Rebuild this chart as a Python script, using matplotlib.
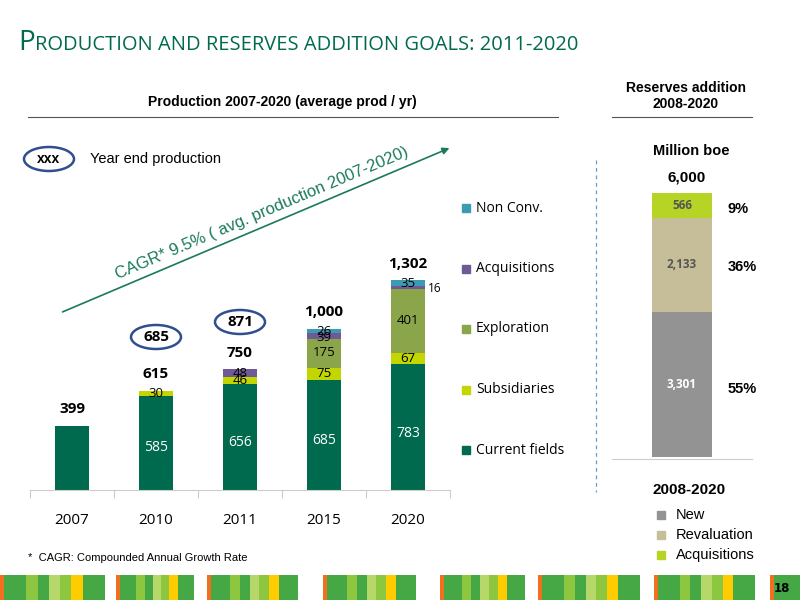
import matplotlib
matplotlib.use("Agg")
import matplotlib.pyplot as plt
from matplotlib.patches import Ellipse, Rectangle, FancyArrowPatch
import numpy as np

years = ["2007", "2010", "2011", "2015", "2020"]
current = [399, 585, 656, 685, 783]
subsidiaries = [0, 30, 46, 75, 67]
exploration = [0, 0, 0, 175, 401]
acquisitions = [0, 0, 48, 39, 16]
nonconv = [0, 0, 0, 26, 35]
totals = ["399", "615", "750", "1,000", "1,302"]
series_names = ["Current fields", "Subsidiaries", "Exploration", "Acquisitions", "Non Conv."]
colors = ["#006A4E", "#C4D600", "#8BA64A", "#6F5A96", "#3C9AB2"]

res_names = ["New", "Revaluation", "Acquisitions"]
res_vals = [3301, 2133, 566]
res_colors = ["#939393", "#C5BE98", "#B5D426"]

W, H = 800, 600
fig = plt.figure(figsize=(8, 6), dpi=100)

ax = fig.add_axes([30 / W, 1 - 490 / H, 420 / W, (490 - 168) / H])
x = np.arange(len(years))
bottom = np.zeros(len(years))
data = [current, subsidiaries, exploration, acquisitions, nonconv]
for vals, c in zip(data, colors):
    ax.bar(x, vals, 0.4, bottom=bottom, color=c)
    bottom += np.array(vals)
ax.set_xlim(-0.5, 4.5); ax.set_ylim(0, 2000)
for s in ["top", "right", "left"]:
    ax.spines[s].set_visible(False)
ax.spines["bottom"].set_color("#cccccc")
ax.set_yticks([])
ax.set_xticks(np.arange(-0.5, 5, 1))
ax.set_xticklabels([])
ax.tick_params(axis="x", length=6, color="#cccccc")
for i, y in enumerate(years):
    ax.text(i, -190, y, ha="center", va="center", fontsize=11, family="Open Sans")
offsets = {(1, 2): -8, (3, 2): 8, (3, 3): -8, (4, 3): 10}
cb = np.zeros(len(years))
for k, vals in enumerate(data):
    for i, v in enumerate(vals):
        if v == 0 or (k == 0 and i == 0):
            continue
        if k == 0:
            ax.text(i, cb[i] + v * 0.45, str(v), ha="center", va="center", color="white", fontsize=10, family="Open Sans")
        elif k == 3 and i == 4:
            ax.text(i + 0.32, cb[i] + v / 2 - 10, str(v), ha="center", va="center", fontsize=8.5, family="Open Sans")
        else:
            ax.text(i, cb[i] + v / 2 + offsets.get((i, k), 0), str(v), ha="center", va="center",
                    fontsize=9.5, family="Open Sans")
    cb += np.array(vals)
for i, t in enumerate(totals):
    ax.text(i, bottom[i] + 60, t, ha="center", va="bottom", fontsize=11, weight="bold", family="Open Sans")

ax2 = fig.add_axes([612 / W, 1 - 457 / H, 140 / W, (457 - 193) / H])
rb = 0
lab_cols = ["white", "#555555", "#555555"]
for v, c, lc in zip(res_vals, res_colors, lab_cols):
    ax2.bar(0, v, 0.6, bottom=rb, color=c)
    ax2.text(0, rb + v / 2, f"{v:,}", ha="center", va="center", fontsize=8.5,
             weight="bold", color=lc, family="Open Sans")
    rb += v
ax2.set_xlim(-0.7, 0.7); ax2.set_ylim(0, 6000)
ax2.axis("off")

ov = fig.add_axes([0, 0, 1, 1])
ov.set_zorder(10); ov.patch.set_alpha(0)
ov.set_xlim(0, W); ov.set_ylim(H, 0); ov.axis("off")

ov.text(18, 50, "P", fontsize=20, color="#006A4E", va="baseline", family="Open Sans")
ov.text(35, 50, "RODUCTION AND RESERVES ADDITION GOALS: 2011-2020", fontsize=14.5, color="#006A4E",
        va="baseline", family="Open Sans")
ov.text(282, 106, "Production 2007-2020 (average prod / yr)", fontsize=10, weight="bold", ha="center",
        family="Liberation Sans")
ov.plot([28, 558], [117, 117], color="#555555", lw=0.8)
ov.text(686, 96, "Reserves addition\n2008-2020", fontsize=10, weight="bold", ha="center", va="center",
        family="Liberation Sans", linespacing=1.1)
ov.plot([612, 752], [117, 117], color="#555555", lw=0.8)
ov.plot([596, 596], [160, 492], color="#6699cc", lw=0.9, ls=(0, (3, 3)))

for (cx, cy, t) in [(156, 337, "685"), (240, 322, "871")]:
    ov.add_patch(Ellipse((cx, cy), 50, 24, fill=False, ec="#2F4F8F", lw=1.8))
    ov.text(cx, cy, t, ha="center", va="center", fontsize=11, weight="bold", family="Open Sans")
ov.add_patch(Ellipse((49, 159), 50, 24, fill=False, ec="#2F4F8F", lw=1.8))
ov.text(49, 159, "xxx", ha="center", va="center", fontsize=10, weight="bold", family="Liberation Sans")
ov.text(90, 159, "Year end production", ha="left", va="center", fontsize=10.5, family="Liberation Sans")

ov.add_patch(FancyArrowPatch((60, 313), (452, 147), arrowstyle="-|>", mutation_scale=10, color="#1A7A5A", lw=1.2))
ov.text(262, 213, "CAGR* 9.5% ( avg. production 2007-2020)", rotation=23, ha="center", va="center",
        fontsize=12, color="#1A7A5A", family="Liberation Sans")

for j, (n, c) in enumerate(zip(series_names, colors)):
    y = 450 - j * 60.5
    ov.add_patch(Rectangle((462, y - 4), 8, 8, color=c))
    ov.text(476, y, n, va="center", fontsize=10, family="Open Sans")

ov.text(28, 558, "*  CAGR: Compounded Annual Growth Rate", fontsize=8, va="center", family="Liberation Sans")

ov.plot([612, 752], [459, 459], color="#cccccc", lw=0.8)
for (y, p) in [(389, "55%"), (267, "36%"), (209, "9%")]:
    ov.text(728, y, p, fontsize=10.5, weight="bold", va="center", family="Liberation Sans")
ov.text(691, 151, "Million boe", ha="center", va="center", fontsize=10.5, weight="bold", family="Liberation Sans")
ov.text(687, 177, "6,000", ha="center", va="center", fontsize=11, weight="bold", family="Liberation Sans")
ov.text(689, 490, "2008-2020", ha="center", va="center", fontsize=11, weight="bold", family="Liberation Sans")
for j, (n, c) in enumerate(zip(res_names, res_colors)):
    y = 515 + j * 20
    ov.add_patch(Rectangle((657, y - 4), 8, 8, color=c))
    ov.text(676, y, n, va="center", fontsize=10.5, family="Liberation Sans")

g1, g2, g3, yl = "#45A845", "#8DC63F", "#B6D86A", "#FFCC00"
groups = [(0, 105), (116, 194), (207, 298), (323, 416), (440, 525), (538, 640), (654, 755), (770, 800)]
pattern = [g1, g1, g2, g1, g3, g2, yl, g1, g1]
for (a, b) in groups:
    ov.add_patch(Rectangle((a, 575), 4, 25, color="#F07020", lw=0))
    w = (b - a - 4) / len(pattern)
    for m, c in enumerate(pattern):
        ov.add_patch(Rectangle((a + 4 + m * w, 575), w + 0.3, 25, color=c, lw=0))
ov.add_patch(Rectangle((774, 575), 20, 25, color="#45A845", lw=0))
ov.text(782, 588, "18", fontsize=8.5, weight="bold", ha="center", va="center")

fig.savefig("out.png", dpi=100)
